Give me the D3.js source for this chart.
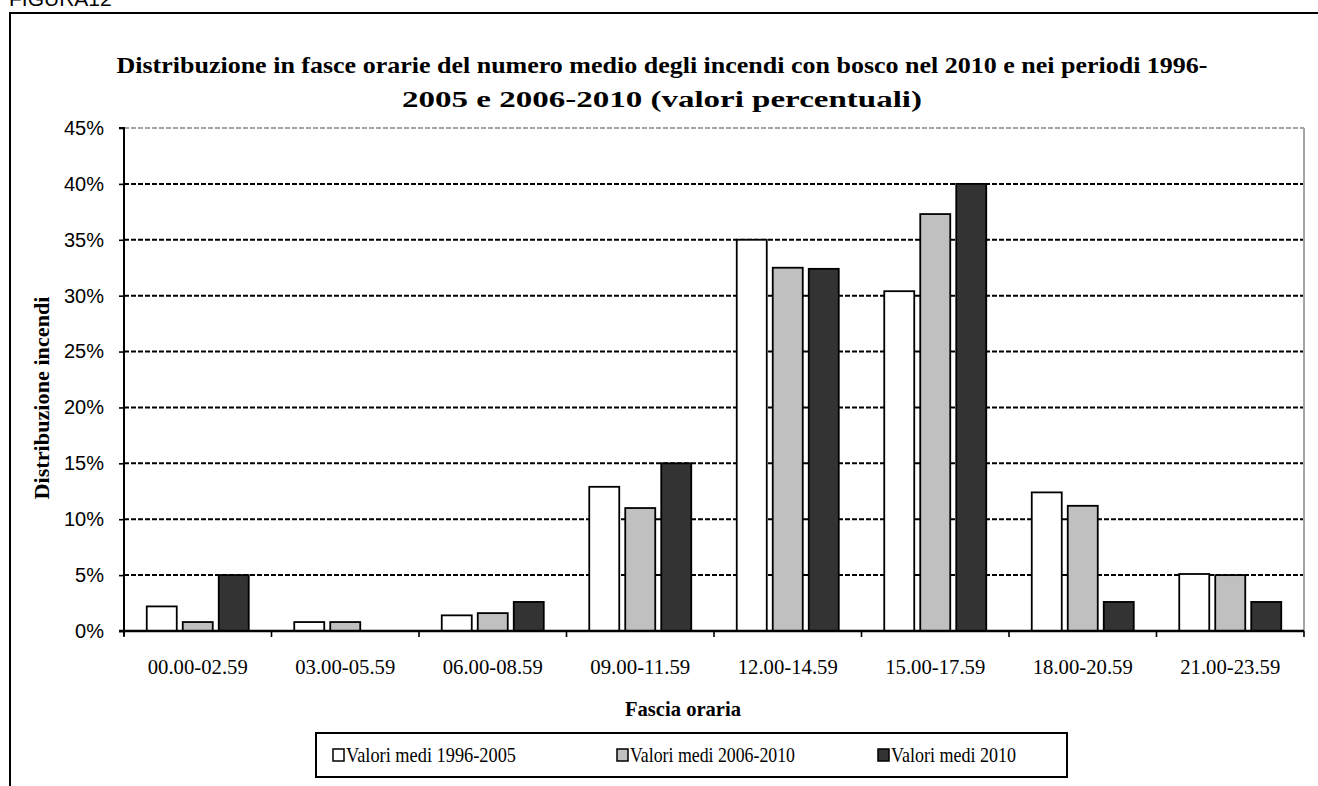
<!DOCTYPE html>
<html>
<head>
<meta charset="utf-8">
<script src="https://cdn.jsdelivr.net/npm/d3@7"></script>
<style>
  html, body { margin: 0; padding: 0; background: #fff; }
  svg { display: block; }
</style>
</head>
<body>
<svg id="chart" width="1318" height="786"></svg>
<script>
// Time slots (x categories)
const fasce = ["00.00-02.59", "03.00-05.59", "06.00-08.59", "09.00-11.59",
               "12.00-14.59", "15.00-17.59", "18.00-20.59", "21.00-23.59"];

// Series names
const serie = ["Valori medi 1996-2005", "Valori medi 2006-2010", "Valori medi 2010"];

// Percent share of fires per time slot, one array per series
const media1996_2005 = [2.2, 0.8, 1.4, 12.9, 35.0, 30.4, 12.4, 5.1];
const media2006_2010 = [0.8, 0.8, 1.6, 11.0, 32.5, 37.3, 11.2, 5.0];
const media2010      = [5.0, 0.0, 2.6, 15.0, 32.4, 40.0, 2.6, 2.6];

// Y axis ticks (percent)
const yTicks = [0, 5, 10, 15, 20, 25, 30, 35, 40, 45];

const titolo = [
  "Distribuzione in fasce orarie del numero medio degli incendi con bosco nel 2010 e nei periodi 1996-",
  "2005 e 2006-2010 (valori percentuali)"
];

const valori = [media1996_2005, media2006_2010, media2010];
const colori = ["#ffffff", "#c0c0c0", "#333333"];

const svg = d3.select("#chart");
const serif = "'Liberation Serif', 'Times New Roman', serif";
const sans = "'Liberation Sans', Arial, sans-serif";

// Outer figure frame (continues past the right and bottom edges)
svg.append("rect")
  .attr("x", 10).attr("y", 13)
  .attr("width", 1400).attr("height", 900)
  .attr("fill", "none").attr("stroke", "#000").attr("stroke-width", 2);

svg.append("text")
  .attr("x", 9).attr("y", 6)
  .attr("font-family", sans).attr("font-size", 21)
  .text("FIGURA12");

// Plot area
const L = 124, R = 1304, T = 128, B = 631;

const x = d3.scaleBand().domain(fasce).range([L, R]).paddingInner(0).paddingOuter(0);
const groupW = 102;
const xs = d3.scaleBand().domain(serie)
  .range([(x.bandwidth() - groupW) / 2, (x.bandwidth() + groupW) / 2])
  .paddingInner(1 / 6).paddingOuter(0);
const y = d3.scaleLinear().domain([0, 45]).range([B, T]);

// Horizontal dashed gridlines
svg.append("g")
  .selectAll("line")
  .data(yTicks.filter(v => v > 0 && v < 45))
  .join("line")
  .attr("x1", L).attr("x2", R)
  .attr("y1", d => y(d)).attr("y2", d => y(d))
  .attr("stroke", "#000").attr("stroke-width", 2)
  .attr("stroke-dasharray", "5,2");

// Plot border (top and right, grey)
svg.append("line")
  .attr("x1", L).attr("x2", R).attr("y1", y(45)).attr("y2", y(45))
  .attr("stroke", "#a6a6a6").attr("stroke-width", 2).attr("stroke-dasharray", "5,2");
svg.append("line")
  .attr("x1", R).attr("x2", R).attr("y1", y(45)).attr("y2", B)
  .attr("stroke", "#a6a6a6").attr("stroke-width", 2);

// Bars
const gruppi = svg.append("g")
  .selectAll("g")
  .data(fasce)
  .join("g")
  .attr("transform", d => `translate(${x(d)},0)`);

gruppi.selectAll("rect")
  .data((d, i) => serie.map((s, k) => ({ s, k, v: valori[k][i] })))
  .join("rect")
  .attr("x", d => xs(d.s))
  .attr("width", xs.bandwidth())
  .attr("y", d => y(d.v))
  .attr("height", d => B - y(d.v))
  .attr("fill", d => colori[d.k])
  .attr("stroke", "#000").attr("stroke-width", 1.8)
  .attr("display", d => d.v > 0 ? null : "none");

// Y axis
const yAxis = d3.axisLeft(y)
  .tickValues(yTicks)
  .tickSize(5)
  .tickPadding(15)
  .tickFormat(d => d + "%");
const gy = svg.append("g").attr("transform", `translate(${L},0)`).call(yAxis);
gy.select(".domain").attr("stroke", "#000").attr("stroke-width", 2)
  .attr("d", `M-5,${T}H0V${B + 5}`);
gy.selectAll(".tick line").attr("stroke", "#000").attr("stroke-width", 1.6);
gy.selectAll(".tick text")
  .attr("font-family", sans).attr("font-size", 20).attr("fill", "#000");

// X axis: ticks at category boundaries, labels at centres
const gx = svg.append("g");
gx.append("line")
  .attr("x1", L - 5).attr("x2", R).attr("y1", B).attr("y2", B)
  .attr("stroke", "#000").attr("stroke-width", 2.6);
const confini = fasce.map(f => x(f)).concat([R]);
gx.selectAll("line.tick")
  .data(confini)
  .join("line")
  .attr("class", "tick")
  .attr("x1", d => d).attr("x2", d => d)
  .attr("y1", B).attr("y2", B + 6)
  .attr("stroke", "#000").attr("stroke-width", 1.6);
gx.selectAll("text")
  .data(fasce)
  .join("text")
  .attr("x", d => x(d) + x.bandwidth() / 2)
  .attr("y", 674)
  .attr("text-anchor", "middle")
  .attr("font-family", serif).attr("font-size", 21)
  .attr("textLength", 100).attr("lengthAdjust", "spacingAndGlyphs")
  .text(d => d);

// Title
svg.append("g").selectAll("text")
  .data(titolo)
  .join("text")
  .attr("x", 662)
  .attr("y", (d, i) => 73 + i * 34)
  .attr("text-anchor", "middle")
  .attr("font-family", serif).attr("font-weight", "bold").attr("font-size", 24)
  .attr("textLength", (d, i) => i === 0 ? 1091 : 520)
  .attr("lengthAdjust", "spacingAndGlyphs")
  .text(d => d);

// Axis titles
svg.append("text")
  .attr("transform", "translate(49,398) rotate(-90)")
  .attr("text-anchor", "middle")
  .attr("font-family", serif).attr("font-weight", "bold").attr("font-size", 21)
  .attr("textLength", 203).attr("lengthAdjust", "spacingAndGlyphs")
  .text("Distribuzione incendi");

svg.append("text")
  .attr("x", 683).attr("y", 716)
  .attr("text-anchor", "middle")
  .attr("font-family", serif).attr("font-weight", "bold").attr("font-size", 21)
  .attr("textLength", 116).attr("lengthAdjust", "spacingAndGlyphs")
  .text("Fascia oraria");

// Legend
const leg = svg.append("g");
leg.append("rect")
  .attr("x", 316).attr("y", 733).attr("width", 751).attr("height", 44)
  .attr("fill", "#fff").attr("stroke", "#000").attr("stroke-width", 2);
const legX = [333, 617, 878];
const legW = [170, 165, 125];
const voci = leg.selectAll("g.voce")
  .data(serie)
  .join("g")
  .attr("class", "voce")
  .attr("transform", (d, i) => `translate(${legX[i]},755)`);
voci.append("rect")
  .attr("x", 0).attr("y", -6).attr("width", 11).attr("height", 12)
  .attr("fill", (d, i) => colori[i]).attr("stroke", "#000").attr("stroke-width", 1.5);
voci.append("text")
  .attr("x", 13).attr("y", 7)
  .attr("font-family", serif).attr("font-size", 21)
  .attr("textLength", (d, i) => legW[i]).attr("lengthAdjust", "spacingAndGlyphs")
  .text(d => d);
</script>
</body>
</html>
